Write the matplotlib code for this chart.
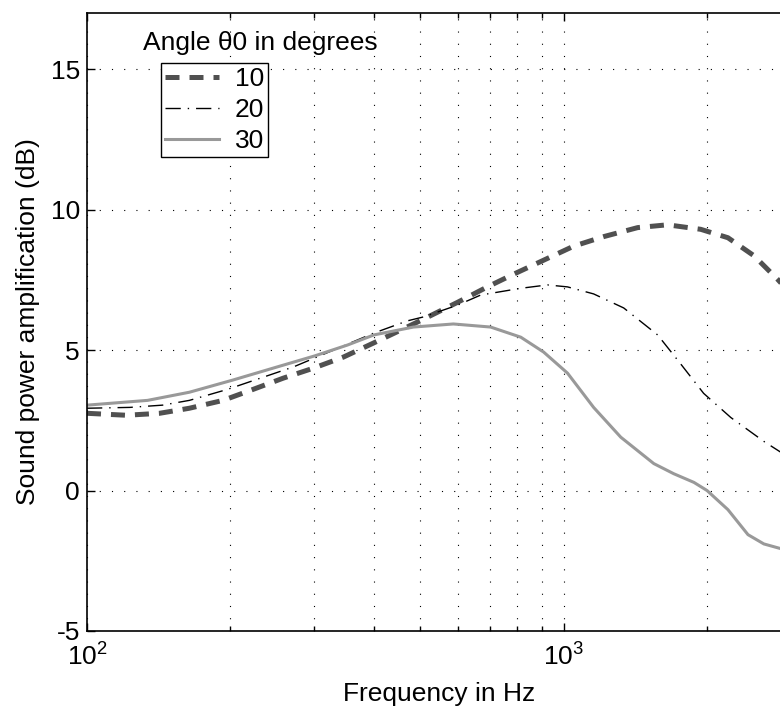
import numpy as np
import matplotlib
matplotlib.use("Agg")
import matplotlib.pyplot as plt
from matplotlib.ticker import NullFormatter

plt.rcParams["font.family"] = ["Liberation Sans", "DejaVu Sans"]
plt.rcParams["font.size"] = 19
plt.rcParams["axes.unicode_minus"] = False

# data
freq_10 = [100, 121, 142, 164, 193, 223, 258, 299, 345, 399, 455, 508, 599, 692,
           785, 908, 1050, 1214, 1430, 1652, 1939, 2212, 2508, 2819, 3000]
db_10 = [2.75, 2.68, 2.75, 2.93, 3.21, 3.6, 4.0, 4.36, 4.75, 5.25, 5.71, 6.1, 6.7, 7.25,
         7.7, 8.2, 8.7, 9.04, 9.36, 9.46, 9.3, 9.0, 8.36, 7.5, 7.0]

freq_20 = [100, 123, 144, 164, 197, 231, 271, 329, 399, 470, 508, 599, 670, 813,
           925, 1019, 1156, 1337, 1575, 1762, 1967, 2243, 2631, 2858, 3000]
db_20 = [2.93, 2.96, 3.04, 3.21, 3.6, 4.0, 4.4, 5.0, 5.6, 6.04, 6.18, 6.6, 6.96, 7.2,
         7.32, 7.25, 7.0, 6.5, 5.54, 4.5, 3.46, 2.6, 1.75, 1.36, 1.15]

freq_30 = [100, 134, 164, 202, 246, 300, 352, 400, 484, 587, 703, 813, 908, 1019,
           1156, 1318, 1546, 1702, 1877, 2000, 2212, 2437, 2631, 2858, 3000]
db_30 = [3.04, 3.21, 3.5, 3.93, 4.36, 4.79, 5.18, 5.54, 5.82, 5.93, 5.82, 5.46, 4.93, 4.18,
         2.96, 1.9, 0.96, 0.6, 0.29, 0.0, -0.68, -1.57, -1.9, -2.07, -2.1]

angle_labels = ["10", "20", "30"]

W, H = 780, 713
fig = plt.figure(figsize=(W / 100, H / 100), dpi=100)
# the right part of the axes runs off the picture, as in the reference
ax = fig.add_axes([87 / W, 1 - 631 / H, (791 - 87) / W, (631 - 13) / H])

ax.plot(freq_10, db_10, color="#505050", lw=3.6, dashes=(2.8, 2.0), label=angle_labels[0])
ax.plot(freq_20, db_20, color="black", lw=1.0, dashes=(11, 5, 1, 5), label=angle_labels[1])
ax.plot(freq_30, db_30, color="#999999", lw=2.2, label=angle_labels[2])

ax.set_xscale("log")
ax.set_xlim(100, 3000)
ax.set_ylim(-5, 17)
ax.set_yticks([-5, 0, 5, 10, 15])
ax.xaxis.set_minor_formatter(NullFormatter())

ax.grid(True, which="both", axis="x", color="black", lw=0.8, linestyle=(0, (1, 10)))
ax.grid(True, which="major", axis="y", color="black", lw=0.8, linestyle=(0, (1, 10)))

ax.tick_params(which="both", direction="in", top=True, right=True, color="black")
ax.tick_params(which="major", length=5.5, width=1.0)
ax.tick_params(which="minor", length=3.5, width=1.0)
ax.tick_params(axis="x", which="major", pad=9)
ax.tick_params(axis="y", which="major", pad=5)
for s in ax.spines.values():
    s.set_linewidth(1.2)

ax.set_xlabel("Frequency in Hz", labelpad=8)
ax.set_ylabel("Sound power amplification (dB)", labelpad=8)

leg = ax.legend(loc="upper left", bbox_to_anchor=(161 / W, 1 - 63 / H),
                bbox_transform=fig.transFigure, borderaxespad=0, borderpad=0.15,
                handlelength=2.05, handletextpad=0.6, labelspacing=0.27,
                fancybox=False, framealpha=1, edgecolor="black")
leg.get_frame().set_linewidth(1.0)

fig.text(143 / W, 1 - 50 / H, "Angle θ0 in degrees", va="baseline", ha="left")

fig.savefig("out.png", dpi=100)
